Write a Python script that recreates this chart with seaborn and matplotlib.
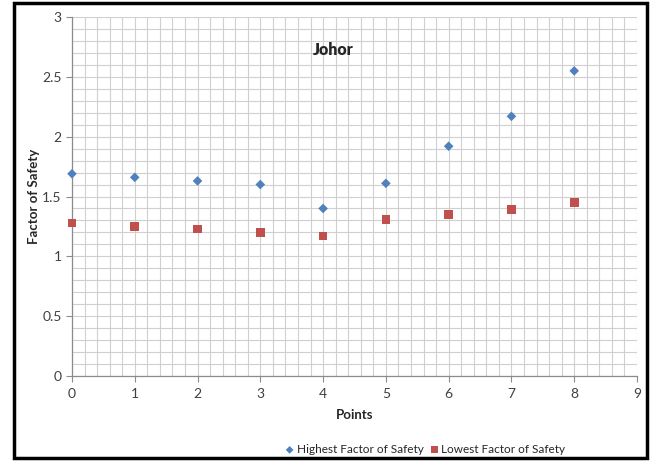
import pandas as pd
import seaborn as sns
import matplotlib.pyplot as plt
import matplotlib.patches as mpatches
from matplotlib.ticker import MultipleLocator

points = [0, 1, 2, 3, 4, 5, 6, 7, 8]
highest_fos = [1.69, 1.66, 1.63, 1.60, 1.40, 1.61, 1.92, 2.17, 2.55]
lowest_fos = [1.28, 1.25, 1.23, 1.20, 1.17, 1.31, 1.35, 1.39, 1.45]

sns.set_style("white")
plt.rcParams['font.family'] = ['Lato', 'DejaVu Sans']

fig = plt.figure(figsize=(6.52, 4.61), dpi=100)
ax = fig.add_axes([0.1104, 0.1844, 0.8666, 0.7787])

df = pd.DataFrame({"Points": points, "high": highest_fos, "low": lowest_fos})
sns.scatterplot(data=df, x="Points", y="high", ax=ax, marker="D", s=24, clip_on=False,
                color="#4F81BD", edgecolor="none", label="Highest Factor of Safety", zorder=3)
sns.scatterplot(data=df, x="Points", y="low", ax=ax, marker="s", s=38, clip_on=False,
                color="#C0504D", edgecolor="none", label="Lowest Factor of Safety", zorder=3)

ax.set_xlim(0, 9)
ax.set_ylim(0, 3)
ax.xaxis.set_major_locator(MultipleLocator(1))
ax.xaxis.set_minor_locator(MultipleLocator(0.2))
ax.yaxis.set_major_locator(MultipleLocator(0.5))
ax.yaxis.set_minor_locator(MultipleLocator(0.1))
ax.set_yticks([0, 0.5, 1, 1.5, 2, 2.5, 3])
ax.set_yticklabels(["0", "0.5", "1", "1.5", "2", "2.5", "3"])
ax.grid(which="both", color="#D0D0D0", linewidth=0.8)
ax.set_axisbelow(True)
for s in ["top", "right"]:
    ax.spines[s].set_visible(False)
for s in ["left", "bottom"]:
    ax.spines[s].set_color("#8C8C8C")
    ax.spines[s].set_linewidth(0.9)
ax.tick_params(which="major", length=4, color="#8C8C8C", labelsize=10, labelcolor="#404040", direction="out",
               left=True, bottom=True)
ax.tick_params(which="minor", length=0)
ax.tick_params(axis="x", pad=5)

ax.set_xlabel("Points", fontsize=9.5, fontweight="bold", labelpad=6)
ax.set_ylabel("Factor of Safety", fontsize=9.5, fontweight="bold")
ax.yaxis.set_label_coords(-0.056, 0.5)
ax.text(0.463, 0.907, "Johor", transform=ax.transAxes, fontsize=11.5, fontweight="heavy",
        ha="center", va="center")

handles, labels = ax.get_legend_handles_labels()
ax.legend(handles, labels, loc="center", bbox_to_anchor=(0.651, 0.025), bbox_transform=fig.transFigure,
          ncol=2, frameon=False, fontsize=8.5, handletextpad=0.1, columnspacing=0.4, markerscale=0.8,
          handlelength=1.0)

fig.patches.append(mpatches.Rectangle((14 / 652, 1 - 458 / 461), 633 / 652, 455 / 461,
                                      transform=fig.transFigure, fill=False, edgecolor="black",
                                      linewidth=2.5, zorder=10))

fig.savefig("out.png", dpi=100)
